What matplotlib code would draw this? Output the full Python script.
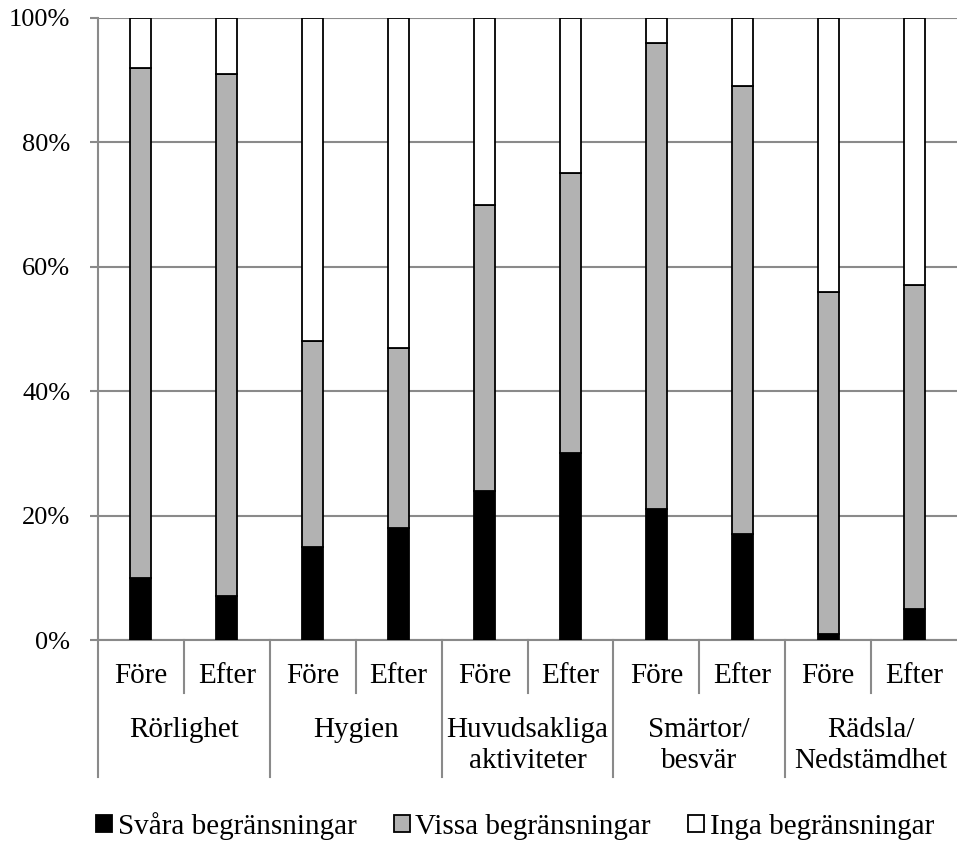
import numpy as np
import matplotlib.pyplot as plt
import matplotlib.transforms as mtransforms

# data
groups = [["Rörlighet"], ["Hygien"], ["Huvudsakliga", "aktiviteter"],
          ["Smärtor/", "besvär"], ["Rädsla/", "Nedstämdhet"]]
sub_labels = ["Före", "Efter"]
svara = [10, 7, 15, 18, 24, 30, 21, 17, 1, 5]
vissa = [82, 84, 33, 29, 46, 45, 75, 72, 55, 52]
inga = [8, 9, 52, 53, 30, 25, 4, 11, 44, 43]
series_names = ["Svåra begränsningar", "Vissa begränsningar", "Inga begränsningar"]
colors = ["#000000", "#b2b2b2", "#ffffff"]

plt.rcParams['font.family'] = ['Liberation Serif']
plt.rcParams['font.size'] = 21

fig = plt.figure(figsize=(9.57, 8.47), dpi=100)
ax = fig.add_axes([98 / 957, 1 - 640 / 847, 859 / 957, 622 / 847])

x = np.arange(len(svara))
w = 0.245
bottom = np.zeros(len(svara))
handles = []
for vals, c, name in zip([svara, vissa, inga], colors, series_names):
    b = ax.bar(x, vals, w, bottom=bottom, color=c, edgecolor="black", linewidth=1.3,
               label=name, zorder=3)
    handles.append(b)
    bottom += np.array(vals)

ax.set_xlim(-0.5, len(svara) - 0.5)
ax.set_ylim(0, 100)
ax.set_yticks(range(0, 101, 20))
ax.set_yticklabels([f"{v}%" for v in range(0, 101, 20)], fontsize=19)
ax.yaxis.grid(True, color="#8a8a8a", linewidth=1.5, zorder=0)
ax.tick_params(axis="y", length=6, width=1.5, color="#8a8a8a", pad=14)
ax.set_xticks([])
for s in ["top", "right"]:
    ax.spines[s].set_visible(False)
for s in ["left", "bottom"]:
    ax.spines[s].set_color("#8a8a8a")
    ax.spines[s].set_linewidth(1.5)

# two level category axis (offsets in pixels below the axis)
trans = mtransforms.blended_transform_factory(ax.transData, ax.transAxes)
ax_h = 622
for i in range(len(svara)):
    ax.text(i, -43 / ax_h, sub_labels[i % 2], transform=trans, ha="center", va="baseline")
    if i % 2 == 1:
        ax.plot([i - 0.5, i - 0.5], [0, -53 / ax_h], transform=trans, color="#8a8a8a",
                lw=1.5, clip_on=False)
for g, lines in enumerate(groups):
    xs = 2 * g - 0.5
    ax.plot([xs, xs], [0, -137 / ax_h], transform=trans, color="#8a8a8a", lw=1.5, clip_on=False)
    for k, line in enumerate(lines):
        ax.text(2 * g + 0.5, (-97 - 31 * k) / ax_h, line, transform=trans,
                ha="center", va="baseline")

ax.legend(handles=handles, loc="center", bbox_to_anchor=(515 / 957, 1 - 826 / 847),
          bbox_transform=fig.transFigure, ncol=3, frameon=False,
          handlelength=0.55, handleheight=0.55, handletextpad=0.2, columnspacing=1.27)

fig.savefig("out.png", dpi=100)
